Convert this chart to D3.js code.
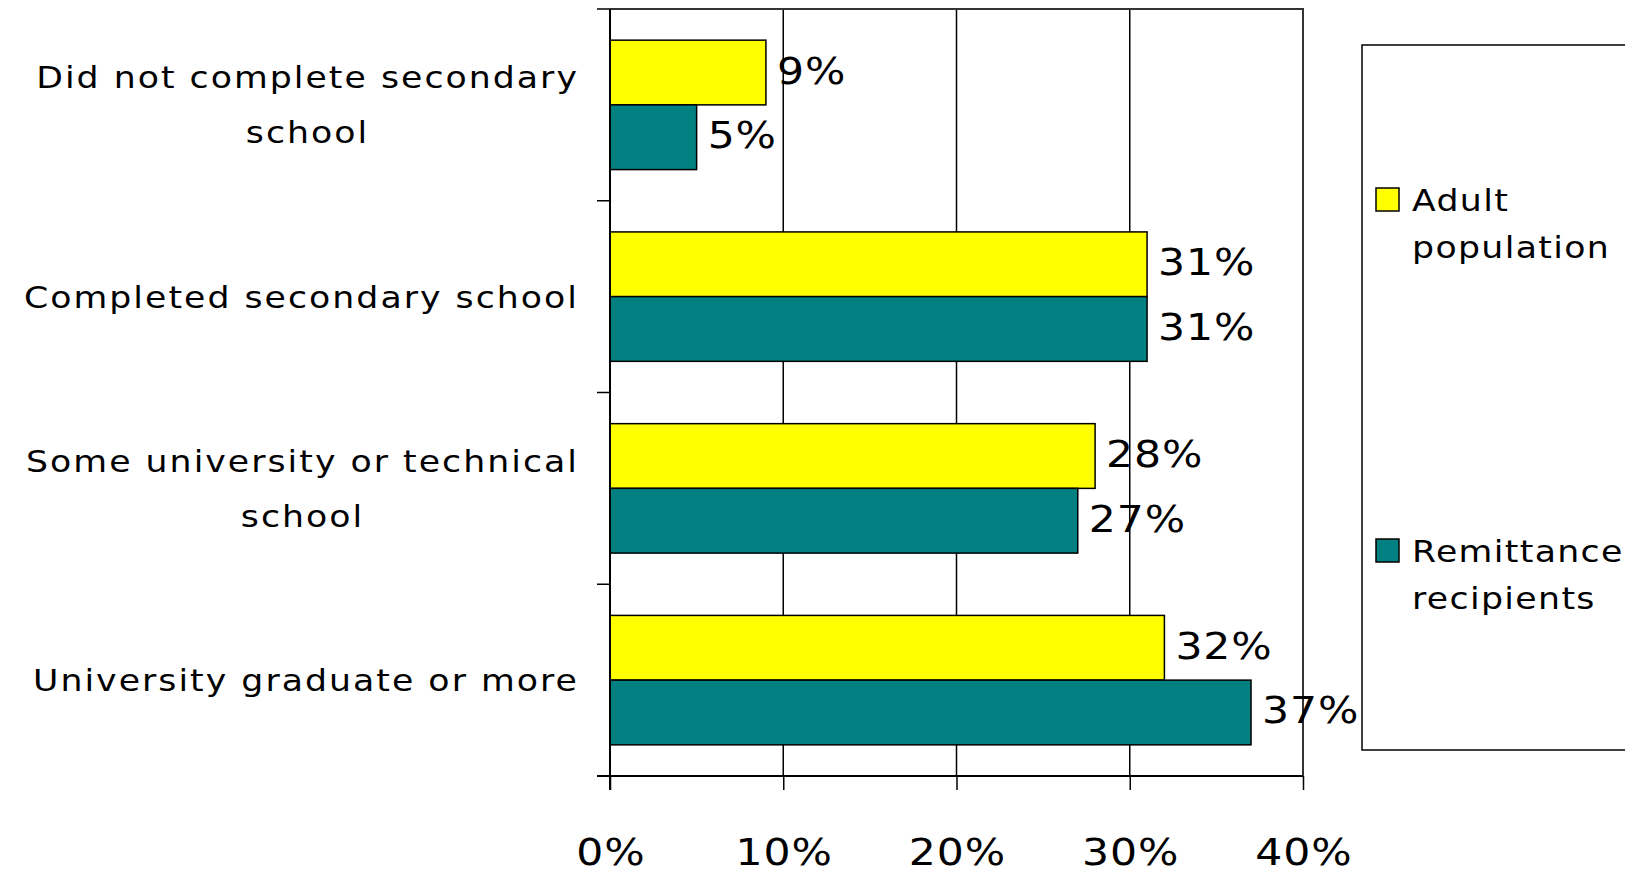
<!DOCTYPE html>
<html><head><meta charset="utf-8">
<script src="https://cdn.jsdelivr.net/npm/d3@7"></script>
<style>body{margin:0;background:#fff}svg{display:block}text{font-family:"DejaVu Sans",Verdana,sans-serif;fill:#000}</style>
</head><body>
<svg id="c" width="1625" height="873"></svg>
<script>
const categories = [["Did not complete secondary","school"],["Completed secondary school"],["Some university or technical","school"],["University graduate or more"]];
const seriesNames = [["Adult","population"],["Remittance","recipients"]];
const adult = [9,31,28,32];
const remittance = [5,31,27,37];
const xTicks = [0,10,20,30,40];
const colors = ["#FFFF00","#008080"];

const svg = d3.select("#c");
const L=610, R=1303, T=9, B=776;
const SX=1.12;
const x = d3.scaleLinear().domain([0,40]).range([L,R]);
const y = d3.scaleBand().domain(d3.range(categories.length)).range([T,B]).paddingInner(0.325).paddingOuter(0.1625);
const sub = d3.scaleBand().domain([0,1]).range([0,y.bandwidth()]);
const series=[adult,remittance];

// gridlines
svg.append("g").selectAll("line").data(xTicks.slice(1,-1)).join("line")
  .attr("x1",d=>x(d)).attr("x2",d=>x(d)).attr("y1",T).attr("y2",B)
  .attr("stroke","#000").attr("stroke-width",1.5);
// plot border top/right
svg.append("path").attr("d",`M${L},${T}H${R}V${B}`).attr("fill","none").attr("stroke","#333").attr("stroke-width",2);

// bars
series.forEach((s,si)=>{
  svg.append("g").selectAll("rect").data(s).join("rect")
    .attr("x",L).attr("y",(d,i)=>y(i)+sub(si))
    .attr("width",d=>x(d)-L).attr("height",sub.bandwidth())
    .attr("fill",colors[si]).attr("stroke","#000").attr("stroke-width",1.5);
  svg.append("g").selectAll("text").data(s).join("text")
    .attr("transform",(d,i)=>`translate(${x(d)+11},${y(i)+sub(si)+sub.bandwidth()/2+11}) scale(${SX},1)`)
    .attr("font-size",38).attr("letter-spacing",0.8).text(d=>d+"%");
});

// axes
const step = (B-T)/categories.length;
const yAxisLine = svg.append("g");
yAxisLine.append("line").attr("x1",L).attr("x2",L).attr("y1",T).attr("y2",B+14).attr("stroke","#000").attr("stroke-width",2);
yAxisLine.selectAll("line.t").data(d3.range(categories.length+1)).join("line").attr("class","t")
  .attr("x1",L-13).attr("x2",L).attr("y1",i=>T+i*step).attr("y2",i=>T+i*step).attr("stroke","#000").attr("stroke-width",1.5);
const xa = d3.axisBottom(x).tickValues(xTicks).tickSize(14).tickFormat(d=>d+"%");
const gx = svg.append("g").attr("transform",`translate(0,${B})`).call(xa);
gx.select(".domain").attr("stroke","#000").attr("stroke-width",2).attr("d",`M${L-13},0H${R}`);
gx.selectAll(".tick line").attr("stroke","#000").attr("stroke-width",1.5);
gx.selectAll(".tick text").attr("font-size",38).attr("font-family","DejaVu Sans").attr("letter-spacing",0.8)
  .attr("fill","#000").attr("dy",0).attr("y",89).attr("x",0.4).attr("transform",`scale(${SX},1)`);

// category labels
categories.forEach((lines,i)=>{
  const cy = y(i)+y.bandwidth()/2;
  const g = svg.append("g");
  const texts = lines.map((t,j)=>g.append("text").attr("font-size",31).attr("letter-spacing",1.8).attr("text-anchor","middle")
     .attr("x",0).attr("y",cy+(j-(lines.length-1)/2)*55+11).text(t));
  const w = d3.max(texts,t=>t.node().getComputedTextLength());
  g.attr("transform",`translate(${579-SX*w/2},0) scale(${SX},1)`);
});

// legend
svg.append("rect").attr("x",1362).attr("y",45).attr("width",300).attr("height",705).attr("fill","#fff").attr("stroke","#000").attr("stroke-width",1.5);
const ly=[211,562];
seriesNames.forEach((n,i)=>{
  svg.append("rect").attr("x",1376).attr("y",ly[i]-23).attr("width",23).attr("height",23).attr("fill",colors[i]).attr("stroke","#000").attr("stroke-width",1.5);
  n.forEach((t,j)=>svg.append("text").attr("transform",`translate(1412,${ly[i]+j*47}) scale(${SX},1)`)
     .attr("font-size",31).attr("letter-spacing",1.2).text(t));
});
</script></body></html>
